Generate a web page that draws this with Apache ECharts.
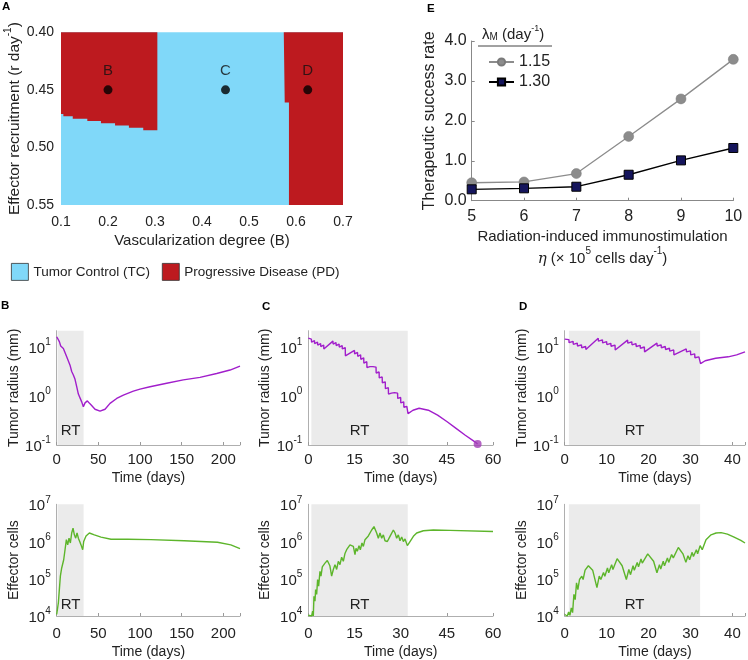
<!DOCTYPE html>
<html><head><meta charset="utf-8">
<script src="https://cdn.jsdelivr.net/npm/echarts@6/dist/echarts.min.js"></script>
<style>html,body{margin:0;padding:0;background:#fff}#c{width:748px;height:660px}</style>
</head><body><div id="c"></div>
<script>
const FF = "'Liberation Sans', Arial, Helvetica, sans-serif";
const TXT = '#222';

// ---------- Panel A: phase diagram (x = vascularization B, y = recruitment r) ----------
const tcRegion = [[0.1,0.40],[0.7,0.40],[0.7,0.55],[0.1,0.55]];
const pdLeftRegion = [[0.1,0.40],[0.305,0.40],[0.305,0.485],[0.275,0.485],[0.275,0.483],[0.2445,0.483],[0.2445,0.481],[0.215,0.481],[0.215,0.479],[0.185,0.479],[0.185,0.477],[0.156,0.477],[0.156,0.475],[0.125,0.475],[0.125,0.473],[0.105,0.473],[0.105,0.471],[0.1,0.471]];
const pdRightRegion = [[0.574,0.40],[0.7,0.40],[0.7,0.55],[0.585,0.55],[0.585,0.461],[0.576,0.461]];
const caseNames = ['B','C','D'];
const caseB = [0.2, 0.45, 0.625];
const caseR = [0.45, 0.45, 0.45];

// ---------- Panel E ----------
const etaValues = [5,6,7,8,9,10];
const rate115 = [0.45,0.47,0.68,1.61,2.55,3.54];
const rate130 = [0.285,0.31,0.35,0.65,1.01,1.32];

// ---------- Panels B-D: [time (days), log10(value)] ----------
const rtWindow = [1, 32.3];
const bRadius = [[0,1.21],[3.2,1.11],[4.8,1.02],[6,1.04],[8,0.97],[10,0.94],[12,0.80],[14,0.77],[16,0.63],[18,0.50],[20,0.43],[22,0.34],[24,0.19],[26,0.04],[28,0.0],[30,-0.12],[32,-0.22],[34,-0.14],[36.8,-0.10],[40,-0.16],[46,-0.27],[52,-0.31],[58,-0.27],[64,-0.15],[72,-0.05],[80,0.02],[92,0.10],[100,0.14],[112,0.19],[132,0.26],[152,0.33],[172,0.38],[192,0.46],[208,0.53],[220,0.61]];
const bEffector = [[0,4.04],[2,4.36],[3.2,4.71],[4.4,5.07],[6,5.29],[7.2,5.32],[8.4,5.51],[10,5.78],[11.6,6.05],[13.2,5.91],[14.8,6.09],[16.4,5.96],[18,6.23],[19.6,6.36],[21.2,6.18],[22.8,6.09],[24.4,6.23],[26,6.09],[27.6,6.00],[29.2,5.91],[31.2,5.78],[32.4,6.00],[35.2,6.15],[39.2,6.23],[45.2,6.18],[53.2,6.12],[65.2,6.06],[85.2,6.06],[113,6.05],[153,6.02],[193,5.98],[209,5.91],[220,5.81]];
const cRadius = [[0,1.18],[1,1.16],[1.05,1.10],[2,1.13],[2.05,1.07],[3,1.10],[3.05,1.04],[4,1.07],[4.05,1.01],[5,1.04],[5.05,0.96],[8,1.12],[8.05,1.06],[9,1.09],[9.05,1.03],[10,1.06],[10.05,1.00],[11,1.03],[11.05,0.96],[12,0.99],[12.05,0.82],[15,0.93],[15.05,0.86],[16,0.89],[16.05,0.81],[17,0.84],[17.05,0.75],[18,0.78],[18.05,0.67],[19,0.70],[19.05,0.58],[20,0.60],[21,0.60],[22,0.59],[22.05,0.47],[23,0.49],[23.05,0.37],[24,0.39],[24.05,0.27],[25,0.29],[25.05,0.15],[26,0.17],[26.05,0.04],[27,0.06],[28,0.07],[29,0.06],[29.05,-0.05],[30,-0.03],[30.05,-0.14],[31,-0.12],[31.05,-0.23],[32,-0.21],[32.4,-0.36],[34,-0.29],[36,-0.25],[39,-0.29],[42,-0.39],[45,-0.52],[48,-0.66],[51,-0.80],[54,-0.93],[55,-0.98]];
const cEffector = [[0,4.02],[1.08,4.0],[1.41,4.13],[1.63,4.0],[1.84,4.53],[2.17,4.40],[2.38,4.71],[2.71,4.58],[3.03,4.98],[3.36,4.80],[3.79,5.20],[4.12,5.07],[4.55,5.32],[5.42,5.42],[6.18,5.49],[7.0,5.35],[7.58,5.07],[8.13,5.25],[8.67,5.38],[9.21,5.25],[9.75,5.47],[10.29,5.38],[10.83,5.58],[11.38,5.47],[11.92,5.68],[12.46,5.78],[13.54,5.91],[14.63,5.87],[15.17,5.65],[15.49,5.82],[15.93,5.74],[16.47,5.89],[16.9,5.78],[17.44,5.96],[17.88,5.87],[18.42,6.05],[19.5,6.15],[20.59,6.31],[21.34,6.40],[22.21,6.23],[22.75,6.09],[23.29,6.23],[23.84,6.09],[24.38,6.18],[24.92,6.02],[25.68,6.0],[26.54,6.14],[27.63,6.31],[28.17,6.23],[28.71,6.09],[29.25,6.18],[29.79,6.02],[30.34,6.12],[30.88,6.0],[31.42,6.07],[32.18,5.89],[33.04,6.0],[34.13,6.14],[35.21,6.23],[37.38,6.29],[40.63,6.31],[46.05,6.30],[60,6.27]];
const dRadius = [[0,1.16],[1,1.15],[1.05,1.09],[2,1.115],[2.05,1.055],[3,1.08],[3.05,1.02],[4,1.045],[4.05,0.985],[5,1.01],[5.05,0.95],[8,1.18],[8.05,1.12],[9,1.145],[9.05,1.085],[10,1.11],[10.05,1.05],[11,1.075],[11.05,1.015],[12,1.04],[12.05,0.94],[15,1.14],[15.05,1.08],[16,1.105],[16.05,1.045],[17,1.07],[17.05,1.01],[18,1.035],[18.05,0.975],[19,1.0],[19.05,0.90],[22,1.08],[22.05,1.02],[23,1.045],[23.05,0.985],[24,1.01],[24.05,0.95],[25,0.975],[25.05,0.915],[26,0.94],[26.05,0.84],[29,0.96],[29.05,0.90],[30,0.92],[30.05,0.84],[31,0.86],[31.05,0.78],[32,0.80],[32.4,0.66],[33.5,0.72],[36,0.77],[39,0.80],[41,0.84],[43,0.90]];
const dEffector = [[0,4.04],[0.63,4.0],[0.94,4.11],[1.25,4.02],[1.57,4.22],[1.88,4.09],[2.2,4.58],[2.5,4.44],[2.82,4.89],[3.14,4.71],[3.53,4.98],[4.08,5.07],[4.39,4.98],[4.86,5.23],[5.65,5.35],[6.67,5.23],[7.69,4.76],[8.24,5.07],[8.63,4.98],[9.25,5.17],[9.57,5.07],[10.2,5.29],[10.5,5.16],[11.2,5.38],[11.5,5.25],[12.5,5.54],[13.7,5.35],[14.7,4.98],[15.3,5.25],[15.7,5.11],[16.3,5.35],[16.6,5.23],[17.3,5.44],[17.6,5.32],[18.2,5.53],[18.5,5.42],[19.8,5.67],[21.2,5.47],[22,5.16],[22.6,5.38],[22.9,5.26],[23.5,5.47],[23.8,5.35],[24.5,5.56],[24.8,5.44],[25.5,5.65],[25.9,5.56],[27.1,5.84],[28.2,5.67],[28.9,5.44],[29.4,5.62],[29.8,5.51],[30.4,5.71],[30.7,5.60],[31.4,5.78],[31.7,5.67],[32.3,5.89],[32.8,5.78],[33.7,6.05],[34.9,6.18],[36.1,6.23],[37.3,6.24],[38.8,6.20],[40.4,6.12],[42,6.03],[43,5.96]];

const PURPLE = '#A11ECB', GREEN = '#5DB52B';
const AXC = '#9a9a9a';

const chart = echarts.init(document.getElementById('c'), null, {renderer:'canvas', width:748, height:660});

const grids = [
  {left:61, top:32.3, width:282, height:172.7},
  {left:471.7, top:41, width:261.6, height:159.7},
  {left:56.7, top:330.7, width:183.3, height:114.3},
  {left:56.7, top:504.3, width:183.3, height:112.4},
  {left:308.3, top:330.7, width:184.7, height:114.3},
  {left:308.3, top:504.3, width:184.7, height:112.4},
  {left:564.7, top:330.7, width:182.8, height:114.3},
  {left:564.7, top:504.3, width:182.8, height:112.4}
];

const powRich = {
  b:{fontSize:15, fontFamily:FF, color:TXT, lineHeight:19, verticalAlign:'bottom'},
  s:{fontSize:10, fontFamily:FF, color:TXT, lineHeight:10, verticalAlign:'top'}
};
function isInt(v){ return Math.abs(v - Math.round(v)) < 1e-6; }

function timeAxis(gi, max, interval, top){
  return {gridIndex:gi, type:'value', min:0, max:max, interval:interval,
    name:'Time (days)', nameLocation:'middle', nameGap: top ? 26.5 : 29,
    nameTextStyle:{fontSize:14, fontFamily:FF, color:TXT},
    axisLine:{show:true, onZero:false, lineStyle:{color:AXC, width:0.8}},
    axisTick:{show:true, inside:true, length:3, lineStyle:{color:AXC}},
    splitLine:{show:false},
    axisLabel:{fontSize:15, fontFamily:FF, color:TXT, margin: top ? 7 : 10,
      formatter: v => (Math.abs(v/interval - Math.round(v/interval))<1e-6 ? String(v) : '')}
  };
}
function logAxis(gi, min, max, name){
  return {gridIndex:gi, type:'value', min:min, max:max, interval:1,
    name:name, nameLocation:'middle', nameGap:36,
    nameTextStyle:{fontSize:14, fontFamily:FF, color:TXT},
    axisLine:{show:true, onZero:false, lineStyle:{color:AXC, width:0.8}},
    axisTick:{show:false},
    splitLine:{show:false},
    axisLabel:{margin:6, rich:powRich,
      formatter: v => isInt(v) ? '{b|10}{s|' + Math.round(v) + '}' : ''}
  };
}
function curve(gi, data, color, labelDist){
  return {type:'line', xAxisIndex:gi, yAxisIndex:gi, data:data, showSymbol:false, symbol:'none',
    lineStyle:{color:color, width:1.4}, itemStyle:{color:color}, z:3, clip:true, animation:false,
    markArea:{silent:true, itemStyle:{color:'#ebebeb'},
      label:{show:true, position:'insideBottom', distance:labelDist, fontSize:15, fontFamily:FF, color:TXT},
      data:[[{xAxis:rtWindow[0], name:'RT'},{xAxis:rtWindow[1]}]]}
  };
}
function polySeries(name, regions, color){
  return {type:'custom', name:name, coordinateSystem:'cartesian2d', xAxisIndex:0, yAxisIndex:0,
    itemStyle:{color:color}, silent:true, clip:false, animation:false,
    data: regions.map(r => [r[0][0], r[0][1]]),
    renderItem: (params, api) => {
      const r = regions[params.dataIndex];
      return {type:'polygon', shape:{points: r.map(p => api.coord(p))}, style:{fill:color}};
    }
  };
}

const xAxes = [
  {gridIndex:0, type:'value', min:0.1, max:0.7, interval:0.1,
    name:'Vascularization degree (B)', nameLocation:'middle', nameGap:28,
    nameTextStyle:{fontSize:15, fontFamily:FF, color:TXT},
    axisLine:{show:false, onZero:false}, axisTick:{show:false}, splitLine:{show:false},
    axisLabel:{fontSize:14, fontFamily:FF, color:TXT, margin:10, formatter: v => v.toFixed(1)}},
  {gridIndex:1, type:'value', min:5, max:10, interval:1,
    name:'{t|Radiation-induced immunostimulation}\n{e|η}{u| (× 10}{s|5}{u| cells day}{s|-1}{u|)}',
    nameLocation:'middle', nameGap:27,
    nameTextStyle:{fontFamily:FF, color:TXT, rich:{
      t:{fontSize:15, fontFamily:FF, color:TXT, lineHeight:19},
      u:{fontSize:15, fontFamily:FF, color:TXT, lineHeight:20, verticalAlign:'bottom'},
      e:{fontSize:15, fontFamily:"'DejaVu Serif', serif", fontStyle:'italic', color:TXT, lineHeight:20, verticalAlign:'bottom'},
      s:{fontSize:10, fontFamily:FF, color:TXT, lineHeight:10, verticalAlign:'top'}}},
    axisLine:{show:true, onZero:false, lineStyle:{color:'#888', width:1}},
    axisTick:{show:true, inside:true, length:3, lineStyle:{color:'#888'}}, splitLine:{show:false},
    axisLabel:{fontSize:16, fontFamily:FF, color:TXT, margin:8}},
  timeAxis(2, 220, 50, true),
  timeAxis(3, 220, 50, false),
  timeAxis(4, 60, 15, true),
  timeAxis(5, 60, 15, false),
  timeAxis(6, 43, 10, true),
  timeAxis(7, 43, 10, false)
];
const yAxes = [
  {gridIndex:0, type:'value', inverse:true, min:0.40, max:0.55, interval:0.05,
    name:'{t|Effector recruitment (r day}{s|-1}{t|)}', nameLocation:'middle', nameGap:36,
    nameTextStyle:{fontFamily:FF, color:TXT, rich:{
      t:{fontSize:15.5, fontFamily:FF, color:TXT, lineHeight:20, verticalAlign:'bottom'},
      s:{fontSize:10, fontFamily:FF, color:TXT, lineHeight:10, verticalAlign:'top'}}},
    axisLine:{show:false, onZero:false}, axisTick:{show:false}, splitLine:{show:false},
    axisLabel:{fontSize:14, fontFamily:FF, color:TXT, margin:7, formatter: v => v.toFixed(2)}},
  {gridIndex:1, type:'value', min:0, max:4, interval:1,
    name:'Therapeutic success rate', nameLocation:'middle', nameGap:34,
    nameTextStyle:{fontSize:16, fontFamily:FF, color:TXT},
    axisLine:{show:true, onZero:false, lineStyle:{color:'#888', width:1}},
    axisTick:{show:true, inside:true, length:3, lineStyle:{color:'#888'}}, splitLine:{show:false},
    axisLabel:{fontSize:16, fontFamily:FF, color:TXT, margin:5, formatter: v => v.toFixed(1)}},
  logAxis(2, -1, 1.333, 'Tumor radius (mm)'),
  logAxis(3, 4, 7, 'Effector cells'),
  logAxis(4, -1, 1.333, 'Tumor radius (mm)'),
  logAxis(5, 4, 7, 'Effector cells'),
  logAxis(6, -1, 1.333, 'Tumor radius (mm)'),
  logAxis(7, 4, 7, 'Effector cells')
];

const series = [
  polySeries('Tumor Control (TC)', [tcRegion], '#80D8F9'),
  polySeries('Progressive Disease (PD)', [pdLeftRegion, pdRightRegion], '#BD1A1F'),
  {type:'scatter', xAxisIndex:0, yAxisIndex:0, symbolSize:9, itemStyle:{color:'#000'}, z:5, animation:false,
    data: caseNames.map((n,i) => ({name:n, value:[caseB[i], caseR[i]]})),
    label:{show:true, position:'top', distance:7, formatter:'{b}', fontSize:15, fontFamily:FF, color:'#111'}},
  {type:'line', name:'1.15', xAxisIndex:1, yAxisIndex:1, clip:false, animation:false,
    data: etaValues.map((x,i) => [x, rate115[i]]),
    symbol:'circle', symbolSize:10, lineStyle:{color:'#8c8c8c', width:1.3},
    itemStyle:{color:'#8c8c8c', borderColor:'#7a7a7a', borderWidth:0.5}},
  {type:'line', name:'1.30', xAxisIndex:1, yAxisIndex:1, clip:false, animation:false,
    data: etaValues.map((x,i) => [x, rate130[i]]),
    symbol:'rect', symbolSize:9, lineStyle:{color:'#000', width:1.3},
    itemStyle:{color:'#15155c', borderColor:'#000', borderWidth:1}},
  curve(2, bRadius, PURPLE, 7),
  curve(3, bEffector, GREEN, 4),
  curve(4, cRadius, PURPLE, 7),
  curve(5, cEffector, GREEN, 4),
  curve(6, dRadius, PURPLE, 7),
  curve(7, dEffector, GREEN, 4),
  {type:'scatter', xAxisIndex:4, yAxisIndex:4, symbolSize:8, itemStyle:{color:'#A13DB5'}, z:6, clip:false, animation:false,
    data:[cRadius[cRadius.length-1]]}
];

const panelLabel = (t, x, y) => ({type:'text', left:x, top:y, style:{text:t, fontSize:11.5, fontWeight:'bold', fontFamily:FF, fill:'#000'}});

chart.setOption({
  animation:false,
  backgroundColor:'#fff',
  grid: grids,
  xAxis: xAxes,
  yAxis: yAxes,
  legend: [
    {data:['Tumor Control (TC)','Progressive Disease (PD)'], left:6, top:258, orient:'horizontal',
      icon:'rect', itemWidth:17, itemHeight:17, itemGap:12, selectedMode:false,
      itemStyle:{borderColor:'#333', borderWidth:0.8},
      textStyle:{fontSize:13.5, fontFamily:FF, color:TXT}},
    {data:['1.15','1.30'], left:483, top:49, orient:'vertical', itemWidth:25, itemHeight:9, itemGap:4, selectedMode:false,
      textStyle:{fontSize:16, fontFamily:FF, color:TXT}}
  ],
  graphic: [
    panelLabel('A', 2, 1),
    panelLabel('E', 427, 3),
    panelLabel('B', 1, 300),
    panelLabel('C', 262, 301),
    panelLabel('D', 519, 301),
    {type:'text', left:482, top:24, style:{text:'{l|λ}{m|M}{t| (day}{s|-1}{t|)}', rich:{
      l:{fontSize:15, fontFamily:FF, fill:TXT, lineHeight:18, verticalAlign:'bottom'},
      m:{fontSize:10, fontFamily:FF, fill:TXT, lineHeight:10, verticalAlign:'bottom'},
      t:{fontSize:15, fontFamily:FF, fill:TXT, lineHeight:18, verticalAlign:'bottom'},
      s:{fontSize:9, fontFamily:FF, fill:TXT, lineHeight:9, verticalAlign:'top'}}}},
    {type:'line', shape:{x1:478, y1:46, x2:552, y2:46}, style:{stroke:'#444', lineWidth:1}}
  ],
  series: series
});
</script></body></html>
